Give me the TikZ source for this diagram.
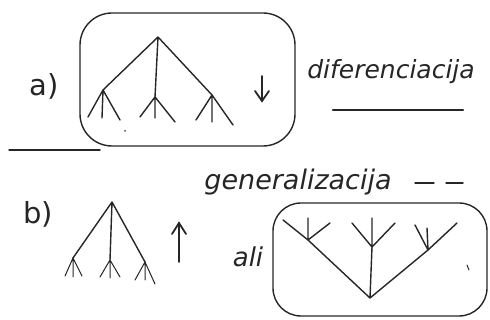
\documentclass[tikz,border=0pt]{standalone}
\usepackage{fontspec}
\setmainfont{DejaVu Sans}
\begin{document}
\begin{tikzpicture}[x=1pt,y=-1pt,
  ink/.style={line width=1.4pt,line cap=round,line join=round,color=black!85},
  thin/.style={line width=1pt,line cap=round,color=black!85},
  hand/.style={inner sep=0pt,color=black!85},
  lab/.style={font=\fontsize{29}{32}\selectfont,inner sep=0pt,color=black!85},
  arr/.style={line width=1.8pt,line cap=round,color=black!85}]
\useasboundingbox (0,0) rectangle (490,320);
% ---- boxes
\draw[ink,rounded corners=32pt] (80,13) rectangle (295,146);
\draw[ink,rounded corners=28pt] (273,203) rectangle (487,316);
% ---- lines
\coordinate (l1) at (9,150); \coordinate (l2) at (100,150);
\draw[ink] (l1) -- (l2);
% ---- labels
\node[lab] (a) at (44,86) {a)};
\node[lab] (b) at (38,214) {b)};
\node[hand,font=\fontsize{25}{28}\selectfont\itshape] (dif) at (391,72) {diferenciacija};
\coordinate (u1) at (333,110); \coordinate (u2) at (463,110);
\draw[line width=2.2pt,line cap=round,color=black!85] (u1) -- (u2);
\node[hand,font=\fontsize{27}{30}\selectfont\itshape] (gen) at (298,182) {generalizacija};
\coordinate (d1) at (415,183); \coordinate (d2) at (434,183);
\coordinate (d3) at (446,183); \coordinate (d4) at (463,183);
\draw[ink] (d1) -- (d2) (d3) -- (d4);
\node[hand,font=\fontsize{26}{30}\selectfont\itshape] (ali) at (248,257) {ali};
% ---- arrows
\coordinate (da1) at (262,76); \coordinate (da2) at (262,101);
\draw[arr] (da1) -- (da2);
\draw[arr] (255,91) -- (da2) -- (269,91);
\coordinate (ua1) at (179,262); \coordinate (ua2) at (179,223);
\draw[arr] (ua1) -- (ua2);
\draw[arr] (172,234) -- (ua2) -- (186,234);
% ---- tree a
\coordinate (ar) at (158,37);
\coordinate (aL) at (103,90); \coordinate (aM) at (155,97); \coordinate (aR) at (212,95);
\coordinate (aL1) at (88,117); \coordinate (aL2) at (102,118); \coordinate (aL3) at (120,120);
\coordinate (aM1) at (140,117); \coordinate (aM2) at (155,118); \coordinate (aM3) at (175,122);
\coordinate (aR1) at (196,120); \coordinate (aR2) at (212,122); \coordinate (aR3) at (233,125);
\draw[ink] (ar) -- (aL) (ar) -- (aM) (ar) -- (aR);
\draw[ink] (aL) -- (aL1) (aL) -- (aL2) (aL) -- (aL3);
\draw[ink] (aM) -- (aM1) (aM) -- (aM2) (aM) -- (aM3);
\draw[ink] (aR) -- (aR1) (aR) -- (aR2) (aR) -- (aR3);
\fill[black!70] (125,131) circle (1pt);
% ---- tree b
\coordinate (br) at (112,202);
\coordinate (bL) at (73,258); \coordinate (bM) at (110,260); \coordinate (bR) at (145,262);
\coordinate (bL1) at (65,276); \coordinate (bL2) at (73,277); \coordinate (bL3) at (82,276);
\coordinate (bM1) at (100,277); \coordinate (bM2) at (110,278); \coordinate (bM3) at (120,277);
\coordinate (bR1) at (135,280); \coordinate (bR2) at (145,280); \coordinate (bR3) at (155,284);
\draw[ink] (br) -- (bL) (br) -- (bM) (br) -- (bR);
\draw[thin] (bL) -- (bL1) (bL) -- (bL2) (bL) -- (bL3);
\draw[thin] (bM) -- (bM1) (bM) -- (bM2) (bM) -- (bM3);
\draw[thin] (bR) -- (bR1) (bR) -- (bR2) (bR) -- (bR3);
% ---- inverted tree
\coordinate (cr) at (370,298);
\coordinate (cL) at (308,240); \coordinate (cM) at (372,247); \coordinate (cR) at (428,250);
\coordinate (cL1) at (283,220); \coordinate (cL2) at (308,218); \coordinate (cL3) at (330,223);
\coordinate (cM1) at (352,223); \coordinate (cM2) at (372,218); \coordinate (cM3) at (395,223);
\coordinate (cR1) at (415,225); \coordinate (cR2) at (427,228); \coordinate (cR3) at (457,223);
\draw[ink] (cr) -- (cL) (cr) -- (cM) (cr) -- (cR);
\draw[ink] (cL) -- (cL1) (cL) -- (cL2) (cL) -- (cL3);
\draw[ink] (cM) -- (cM1) (cM) -- (cM2) (cM) -- (cM3);
\draw[ink] (cR) -- (cR1) (cR) -- (cR2) (cR) -- (cR3);
\draw[thin] (467,265) -- (469,270);
\end{tikzpicture}
\end{document}
